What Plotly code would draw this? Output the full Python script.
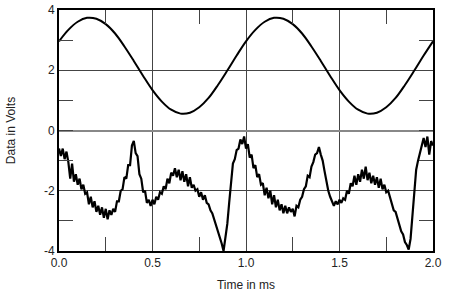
import plotly.graph_objects as go

# Upper trace (sine-like input), sampled every 0.05 ms
upper_t = [round(i * 0.05, 2) for i in range(41)]
upper_v = [2.96, 3.34, 3.61, 3.74, 3.71, 3.53, 3.22, 2.79, 2.31, 1.81,
           1.34, 0.96, 0.69, 0.56, 0.59, 0.77, 1.08, 1.51, 1.99, 2.49,
           2.96, 3.34, 3.61, 3.74, 3.71, 3.53, 3.22, 2.79, 2.31, 1.81,
           1.34, 0.96, 0.69, 0.56, 0.59, 0.77, 1.08, 1.51, 1.99, 2.49,
           2.96]

# Lower trace (noisy output), sampled every 0.01 ms
lower_t = [round(i * 0.01, 2) for i in range(201)]
lower_v = [
    -0.6, -0.85, -0.6, -0.95, -0.7, -1.05, -1.6, -1.1, -1.7, -1.45,
    -1.8, -1.6, -1.95, -1.8, -2.1, -2.05, -2.45, -2.2, -2.55, -2.35,
    -2.7, -2.5, -2.8, -2.55, -2.9, -2.6, -2.95, -2.65, -2.8, -2.6,
    -2.7, -2.35, -2.35, -2.0, -1.95, -1.55, -1.6, -1.15, -1.15, -0.5,
    -0.35, -0.75, -0.85, -1.45, -1.6, -2.05, -2.0, -2.4, -2.3, -2.5,
    -2.3, -2.45, -2.2, -2.3, -2.05, -2.1, -1.85, -1.95, -1.6, -1.75,
    -1.4, -1.5, -1.25, -1.55, -1.3, -1.65, -1.35, -1.7, -1.45, -1.85,
    -1.55, -1.9, -1.8, -2.0, -1.95, -2.2, -2.05, -2.3, -2.15, -2.4,
    -2.45, -2.65, -2.75, -2.95, -3.1, -3.3, -3.5, -3.75, -4.0, -3.6,
    -3.1, -2.4, -1.6, -1.1, -0.95, -0.65, -0.6, -0.3, -0.45, -0.2,
    -0.6, -0.45, -0.9, -0.8, -1.25, -1.15, -1.55, -1.45, -1.8, -1.75,
    -2.15, -1.9, -2.25, -2.0, -2.45, -2.15, -2.55, -2.3, -2.65, -2.45,
    -2.75, -2.5, -2.75, -2.55, -2.7, -2.6, -2.85, -2.5, -2.55, -2.3,
    -2.2, -1.95, -1.85, -1.5, -1.55, -1.2, -1.05, -0.8, -0.75, -0.55,
    -0.8, -1.0, -1.35, -1.7, -2.0, -2.2, -2.35, -2.5, -2.35, -2.45,
    -2.3, -2.4, -2.25, -2.3, -2.0, -2.1, -1.75, -1.85, -1.5, -1.8,
    -1.45, -1.7, -1.3, -1.6, -1.2, -1.65, -1.4, -1.75, -1.5, -1.8,
    -1.55, -1.9, -1.6, -1.95, -1.8, -2.05, -2.0, -2.25, -2.4, -2.65,
    -2.7, -2.95, -3.1, -3.35, -3.45, -3.7, -3.8, -3.95, -3.6, -2.9,
    -2.1, -1.3, -1.0, -0.75, -0.5, -0.25, -0.55, -0.2, -0.8, -0.35,
    -0.5,
]

x_ticks = [0.0, 0.5, 1.0, 1.5, 2.0]
x_tick_labels = ["0.0", "0.5", "1.0", "1.5", "2.0"]
y_ticks = [-4, -2, 0, 2, 4]
y_tick_labels = ["-4", "-2", "0", "2", "4"]

fig = go.Figure()
fig.add_trace(go.Scatter(x=upper_t, y=upper_v, mode="lines",
                         line=dict(color="black", width=2, shape="spline"),
                         showlegend=False))
fig.add_trace(go.Scatter(x=lower_t, y=lower_v, mode="lines",
                         line=dict(color="black", width=2.2),
                         showlegend=False))

font = dict(family="Liberation Sans, Arial, sans-serif", size=12, color="#222")

fig.update_layout(
    width=450, height=293,
    margin=dict(l=59, r=17, t=10, b=42),
    paper_bgcolor="white", plot_bgcolor="white",
    font=font,
    xaxis=dict(
        range=[0, 2], tickvals=x_ticks, ticktext=x_tick_labels,
        showgrid=True, gridcolor="#444", gridwidth=1,
        zeroline=False, automargin=False,
        showline=True, linecolor="black", linewidth=2, mirror="allticks",
        ticks="inside", ticklen=14, tickcolor="#444",
        minor=dict(dtick=0.25, tick0=0, ticks="inside", ticklen=14,
                   tickcolor="#444", showgrid=False),
        title=dict(text="Time in ms", standoff=11, font=font),
        fixedrange=True,
    ),
    yaxis=dict(
        range=[-4, 4], tickvals=y_ticks, ticktext=y_tick_labels,
        showgrid=True, gridcolor="#444", gridwidth=1,
        zeroline=True, zerolinecolor="#888", zerolinewidth=2,
        automargin=False,
        showline=True, linecolor="black", linewidth=2, mirror="allticks",
        ticks="inside", ticklen=14, tickcolor="#444",
        minor=dict(dtick=1, tick0=0, ticks="inside", ticklen=14,
                   tickcolor="#444", showgrid=False),
        title=dict(text="Data in Volts", standoff=26, font=font),
        fixedrange=True,
    ),
)

fig.write_html("out.html")
